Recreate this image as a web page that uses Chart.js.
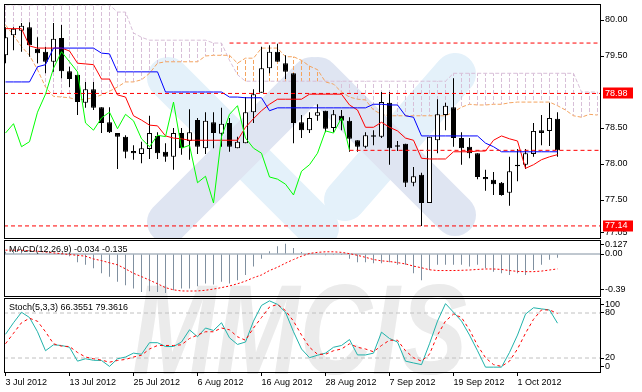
<!DOCTYPE html>
<html>
<head>
<meta charset="utf-8">
<script src="https://cdn.jsdelivr.net/npm/chart.js"></script>
<style>
  html, body { margin: 0; padding: 0; background: #fff; }
  #wrap { position: relative; width: 642px; height: 392px; overflow: hidden; }
  #wrap canvas { position: absolute; left: 0; }
  #mark { position: absolute; left: 132px; top: 256px; line-height: 128px;
          font: italic bold 128px "Liberation Sans", sans-serif; color: #ebebeb;
          transform-origin: 0 0; transform: scaleX(0.785); white-space: nowrap; }
</style>
</head>
<body>
<div id="wrap">
  <div id="mark">MMCIS</div>
  <canvas id="mainChart"  width="642" height="240" style="top:0"></canvas>
  <canvas id="macdChart"  width="642" height="57"  style="top:240px"></canvas>
  <canvas id="stochChart" width="642" height="95"  style="top:297px"></canvas>
</div>
<script>
//--------------------------------------
// USDJPY daily, Ichimoku + MACD + Stoch
//--------------------------------------

// date axis (bar index of each label)
var dateLabels = ["3 Jul 2012", "13 Jul 2012", "25 Jul 2012", "6 Aug 2012", "16 Aug 2012",
                  "28 Aug 2012", "7 Sep 2012", "19 Sep 2012", "1 Oct 2012"];
var dateBars   = [0, 8, 16, 24, 32, 40, 48, 56, 64];

// candles
var opens  = [79.51,79.79,79.85,79.90,79.60,79.56,79.42,79.75,79.29,79.24,
              78.85,79.04,78.79,78.58,78.43,78.38,78.18,78.14,78.21,78.39,
              78.17,78.10,78.43,78.32,78.61,78.22,78.58,78.42,78.57,78.22,
              78.29,78.72,78.99,79.33,79.56,79.40,79.26,78.58,78.47,78.67,
              78.74,78.50,78.67,78.60,78.33,78.24,78.40,78.38,78.85,78.24,
              78.28,77.74,77.85,77.46,78.33,78.68,78.79,78.36,78.24,78.15,
              77.82,77.78,77.74,77.60,77.97,77.99,78.14,78.47,78.46,78.63];
var highs  = [79.90,79.90,79.96,79.97,79.76,79.63,79.96,79.93,79.35,79.24,
              79.14,79.14,78.79,78.79,78.43,78.40,78.26,78.31,78.67,78.44,
              78.29,78.50,78.50,78.76,78.64,78.72,78.72,78.78,78.64,78.38,
              78.93,79.04,79.63,79.65,79.67,79.51,79.26,78.68,78.72,78.83,
              78.74,78.75,78.75,78.65,78.33,78.44,78.47,79.00,79.00,78.32,
              78.28,77.96,77.88,78.38,78.90,78.85,79.19,78.44,78.36,78.15,
              77.92,77.89,77.75,78.10,78.21,78.21,78.57,78.68,78.85,78.72];
var lows   = [79.40,79.58,79.56,79.49,79.40,79.26,79.28,79.19,79.07,78.68,
              78.78,78.75,78.43,78.43,77.93,78.08,78.06,78.01,78.07,78.07,
              78.03,77.92,78.13,78.06,78.14,78.14,78.22,78.24,78.17,78.22,
              78.29,78.57,78.99,79.26,79.42,79.18,78.29,78.36,78.43,78.60,
              78.44,78.44,78.47,78.17,78.17,78.22,78.26,78.36,77.99,78.18,
              77.68,77.69,77.14,77.46,78.15,78.47,78.24,77.99,78.08,77.79,
              77.63,77.57,77.56,77.42,77.76,77.93,78.10,78.26,78.25,78.10];
var closes = [79.76,79.88,79.92,79.65,79.54,79.42,79.74,79.29,79.18,78.86,
              79.04,78.78,78.57,78.44,78.38,78.17,78.15,78.22,78.43,78.15,
              78.10,78.43,78.22,78.44,78.24,78.60,78.43,78.56,78.24,78.31,
              78.72,78.97,79.33,79.56,79.42,79.28,78.57,78.47,78.64,78.72,
              78.49,78.69,78.60,78.35,78.24,78.40,78.38,78.86,78.22,78.26,
              77.74,77.83,77.46,78.38,78.69,78.81,78.36,78.22,78.15,77.82,
              77.79,77.72,77.57,77.90,77.99,78.15,78.46,78.43,78.64,78.19];

// ichimoku lines
var tenkan = [79.88,79.88,79.88,79.64,79.61,79.61,79.61,79.61,79.57,79.40,
              79.39,79.38,79.18,79.18,78.96,78.93,78.67,78.61,78.54,78.53,
              78.39,78.36,78.35,78.33,78.33,78.33,78.33,78.33,78.33,78.33,
              78.51,78.63,78.74,78.83,78.90,78.90,78.90,78.90,78.97,78.97,
              78.97,78.97,78.97,78.82,78.75,78.51,78.51,78.58,78.51,78.46,
              78.36,78.33,78.08,78.07,78.07,78.07,78.17,78.17,78.17,78.18,
              78.18,78.33,78.39,78.35,78.32,77.94,77.99,78.06,78.10,78.13];
var kijun  = [79.14,79.14,79.14,79.14,79.35,79.38,79.61,79.61,79.61,79.61,
              79.61,79.61,79.54,79.53,79.28,79.28,79.28,79.28,79.28,79.28,
              79.00,79.00,79.00,79.00,79.00,79.00,79.00,79.00,78.93,78.93,
              78.92,78.92,78.92,78.74,78.78,78.78,78.78,78.78,78.78,78.78,
              78.78,78.78,78.78,78.78,78.78,78.78,78.83,78.83,78.82,78.82,
              78.67,78.65,78.39,78.39,78.39,78.39,78.39,78.39,78.39,78.39,
              78.29,78.24,78.17,78.17,78.17,78.17,78.17,78.17,78.17,78.17];
var spanA  = [79.93,79.79,79.63,79.51,79.31,79.07,78.94,78.93,78.92,78.89,
              78.90,78.92,78.96,79.01,79.07,79.14,79.14,79.17,79.26,79.40,
              79.42,79.42,79.42,79.42,79.42,79.50,79.51,79.51,79.51,79.40,
              79.47,79.47,79.61,79.61,79.61,79.49,79.49,79.44,79.36,79.31,
              79.14,79.11,79.00,78.93,78.90,78.89,78.75,78.69,78.67,78.67,
              78.67,78.67,78.67,78.67,78.67,78.67,78.72,78.79,78.83,78.82,
              78.82,78.83,78.83,78.85,78.86,78.86,78.86,78.86,78.86,78.81,
              78.75,78.67,78.65,78.69,78.68];
var spanB  = [80.21,80.21,80.21,80.21,80.21,80.21,80.21,80.21,80.21,80.21,
              80.21,80.21,80.21,80.21,80.11,80.11,79.82,79.76,79.72,79.72,
              79.72,79.72,79.72,79.72,79.72,79.72,79.68,79.68,79.44,79.24,
              79.15,79.15,79.15,79.15,79.15,79.15,79.15,79.15,79.15,79.15,
              79.15,79.15,79.15,79.15,79.15,79.15,79.15,79.15,79.15,79.15,
              79.15,79.15,79.15,79.15,79.15,79.15,79.26,79.26,79.26,79.26,
              79.26,79.26,79.26,79.26,79.26,79.26,79.26,79.26,79.26,79.26,
              79.26,79.26,79.00,79.00,79.00];

// drawn levels (price, first bar)
var levels     = [79.68, 78.98, 78.19, 77.14];
var levelFrom  = [28, 0, 43, 0];
var priceBoxes = [78.98, 77.14];
var priceTicks = [80.00, 79.50, 78.50, 78.00, 77.50, 77.05];

// MACD(12,26,9)
var macdMain   = [0.02,0.02,0.02,0.01,0.005,0.0,0.0,-0.01,-0.02,-0.074,
                  -0.098,-0.129,-0.175,-0.206,-0.252,-0.283,-0.314,-0.345,-0.338,-0.345,
                  -0.354,-0.329,-0.314,-0.314,-0.292,-0.268,-0.277,-0.252,-0.268,-0.237,
                  -0.191,-0.114,-0.043,0.025,0.071,0.092,0.055,0.018,0.008,0.004,
                  -0.012,-0.01,-0.01,-0.043,-0.074,-0.074,-0.083,-0.083,-0.074,-0.098,
                  -0.098,-0.175,-0.237,-0.145,-0.098,-0.098,-0.098,-0.098,-0.114,-0.098,
                  -0.129,-0.16,-0.175,-0.191,-0.175,-0.191,-0.145,-0.098,-0.052,-0.034];
var macdSignal = [0.035,0.035,0.034,0.03,0.025,0.018,0.01,0.003,-0.005,-0.012,
                  -0.02,-0.045,-0.06,-0.08,-0.098,-0.135,-0.175,-0.205,-0.237,-0.27,
                  -0.305,-0.325,-0.335,-0.336,-0.335,-0.329,-0.318,-0.305,-0.29,-0.27,
                  -0.246,-0.215,-0.19,-0.15,-0.12,-0.083,-0.05,-0.02,0.005,0.015,
                  0.02,0.02,0.015,0.003,-0.012,-0.03,-0.05,-0.062,-0.068,-0.078,
                  -0.09,-0.11,-0.125,-0.143,-0.15,-0.15,-0.15,-0.148,-0.145,-0.14,
                  -0.136,-0.136,-0.14,-0.15,-0.158,-0.16,-0.16,-0.155,-0.145,-0.135];

// Stoch(5,3,3)
var stochMain   = [51.6,67,81,74,55,29.7,37.6,36.7,34.3,15.8,
                   19,17,16.7,8.8,19,21.3,26.5,25,40.4,40.4,
                   35.3,35.3,41.3,57.6,48.3,60,56.7,67,46.9,38.1,
                   41.3,69.2,90.1,96.2,91.5,81,55,32,20.4,23.7,
                   26.5,34.3,36.7,44.6,24.1,24.1,26.5,54.4,46,41.3,
                   15.8,13.4,11.2,39,69.2,92.5,81,69.2,50.6,29.7,
                   7.8,7.8,7.8,27.4,50.6,78.5,87,85.5,84.1,66.4];
var stochSignal = [39,53,67,73,69,55,39,35.8,35.3,27.4,
                   21.3,19,17.2,14.4,16.7,18.1,21.3,23.7,32,36.7,
                   36.7,36.7,37.6,46,50.6,55,55,60,57.6,48.3,
                   43.7,60,74,88,91.5,83.2,69.2,50.6,34.3,25,
                   25,29.7,32,39,34.3,32,28.3,36.7,43.7,43.7,
                   29.7,20.4,15.8,25,50.6,69.2,78.5,74,57.6,36.7,
                   20.4,11.2,8.8,15.8,32,53,71.6,84.1,84.1,79.4];
var stochLevels = [20, 80];

//--------------------------------------

var X_MIN = -0.1875, X_MAX = 74.4375;    // 8 px per bar
var FONT  = "Liberation Sans";
Chart.defaults.font.family = FONT;
Chart.defaults.font.size   = 9;
Chart.defaults.color       = "#000";

function pts(arr, shift) {
    return arr.map(function(v, i) { return {x: i + (shift || 0), y: v}; });
}

function makeHatch(color) {
    var c = document.createElement("canvas");
    c.width = 1; c.height = 6;
    var g = c.getContext("2d");
    g.fillStyle = color;
    g.fillRect(0, 0, 1, 4);
    return g.createPattern(c, "repeat");
}
var hatchPink  = makeHatch("#d8bfd8");
var hatchBrown = makeHatch("#f4a460");

// frame round the plot area + panel caption
var framePlugin = {
    id: "frame",
    afterDraw: function(chart, args, opts) {
        var a = chart.chartArea, ctx = chart.ctx;
        ctx.save();
        ctx.strokeStyle = "#000";
        ctx.lineWidth = 1;
        ctx.strokeRect(a.left + 0.5, a.top + 0.5, a.right - a.left - 1, a.bottom - a.top - 1);
        if (opts.title) {
            ctx.fillStyle = "#000";
            ctx.font = "9px '" + FONT + "'";
            ctx.textBaseline = "middle";
            ctx.fillText(opts.title, a.left + 5, a.top + opts.titleY);
        }
        ctx.restore();
    }
};

// pale logo behind the price chart
var logoPlugin = {
    id: "logo",
    beforeDatasetsDraw: function(chart) {
        var a = chart.chartArea, ctx = chart.ctx;
        var bands = [
            ["#e4f1fa", 168, 78, 318, 228],
            ["#e4f1fa", 455, 74, 345, 200],
            ["#dfe5f2", 168, 222, 312, 78],
            ["#dfe5f2", 318, 78, 455, 215]
        ];
        ctx.save();
        ctx.beginPath();
        ctx.rect(a.left, a.top, a.right - a.left, a.bottom - a.top);
        ctx.clip();
        ctx.lineCap = "round";
        ctx.lineWidth = 42;
        bands.forEach(function(b) {
            ctx.strokeStyle = b[0];
            ctx.beginPath();
            ctx.moveTo(b[1], b[2]);
            ctx.lineTo(b[3], b[4]);
            ctx.stroke();
        });
        ctx.restore();
    }
};

// red price boxes on the right axis
var boxPlugin = {
    id: "boxes",
    afterDraw: function(chart) {
        var ctx = chart.ctx, y = chart.scales.y;
        ctx.save();
        ctx.font = "9px '" + FONT + "'";
        ctx.textBaseline = "middle";
        priceBoxes.forEach(function(v) {
            var py = y.getPixelForValue(v);
            ctx.fillStyle = "#ff0000";
            ctx.fillRect(603, Math.round(py) - 5.5, 30, 11);
            ctx.fillStyle = "#fff";
            ctx.fillText(v.toFixed(2), 605, py);
        });
        ctx.restore();
    }
};

function rightAxis(min, max, tickValues, labels) {
    return {
        position: "right", min: min, max: max,
        afterFit: function(s) { s.width = 41; s.paddingTop = 0; s.paddingBottom = 0; },
        afterBuildTicks: function(s) { s.ticks = tickValues.map(function(v) { return {value: v}; }); },
        ticks: {
            padding: 1, color: "#000", font: {family: FONT, size: 9},
            callback: function(v) {
                var k = tickValues.indexOf(v);
                return labels ? labels[k] : v.toFixed(2);
            }
        },
        grid:   { drawOnChartArea: false, drawTicks: true, tickLength: 3, color: "#000" },
        border: { display: false }
    };
}

//------------------- price panel -------------------
var levelSets = levels.map(function(v, k) {
    return {
        type: "line",
        data: [{x: levelFrom[k] === 0 ? X_MIN : levelFrom[k], y: v}, {x: X_MAX, y: v}],
        borderColor: "#ff0000", borderWidth: 1, borderDash: [4, 3],
        pointRadius: 0, order: 0
    };
});

new Chart(document.getElementById("mainChart"), {
    type: "bar",
    data: {
        datasets: [
            { type: "line", data: pts(closes.slice(26)), borderColor: "#00ff00", borderWidth: 1,
              pointRadius: 0, tension: 0, order: 1 },
            { type: "line", data: pts(kijun), borderColor: "#0000ff", borderWidth: 1,
              pointRadius: 0, tension: 0, order: 2 },
            { type: "line", data: pts(tenkan), borderColor: "#ff0000", borderWidth: 1,
              pointRadius: 0, tension: 0, order: 3 },
            { data: opens.map(function(o, i) { return {x: i, y: [o, closes[i]]}; }),
              backgroundColor: opens.map(function(o, i) { return closes[i] >= o ? "#fff" : "#000"; }),
              borderColor: "#000", borderWidth: 1, borderSkipped: false,
              barThickness: 5, grouped: false, inflateAmount: 0, order: 5 },
            { data: highs.map(function(h, i) { return {x: i, y: [lows[i], h]}; }),
              backgroundColor: "#000", borderWidth: 0,
              barThickness: 1, grouped: false, inflateAmount: 0, order: 6 },
            { type: "line", data: pts(spanA), borderColor: "#f4a460", borderWidth: 1, borderDash: [4, 2],
              pointRadius: 0, tension: 0, order: 7 },
            { type: "line", data: pts(spanB), borderColor: "#d8bfd8", borderWidth: 1, borderDash: [4, 2],
              pointRadius: 0, tension: 0, order: 7 },
            { data: spanA.map(function(a, i) { return {x: i, y: [a, spanB[i]]}; }),
              backgroundColor: spanA.map(function(a, i) { return a > spanB[i] ? hatchBrown : hatchPink; }),
              borderWidth: 0, barThickness: 1, grouped: false, inflateAmount: 0, order: 9 }
        ].concat(levelSets)
    },
    options: {
        responsive: false, animation: false, events: [],
        layout: { padding: { left: 4, top: 4, right: 0, bottom: 1 } },
        plugins: { legend: { display: false }, tooltip: { enabled: false }, frame: {} },
        scales: {
            x: { type: "linear", min: X_MIN, max: X_MAX, offset: false, display: false },
            y: rightAxis(76.9585, 80.2224, priceTicks)
        }
    },
    plugins: [logoPlugin, framePlugin, boxPlugin]
});

//------------------- MACD panel -------------------
new Chart(document.getElementById("macdChart"), {
    type: "bar",
    data: {
        datasets: [
            { type: "line", data: pts(macdSignal), borderColor: "#ff0000", borderWidth: 1, borderDash: [2, 2],
              pointRadius: 0, tension: 0, order: 1 },
            { type: "line", data: [{x: X_MIN, y: 0}, {x: X_MAX, y: 0}], borderColor: "#8090a0", borderWidth: 1,
              pointRadius: 0, order: 2 },
            { data: pts(macdMain), backgroundColor: "#8090a0", borderWidth: 0,
              barThickness: 1, grouped: false, inflateAmount: 0, order: 3 }
        ]
    },
    options: {
        responsive: false, animation: false, events: [],
        layout: { padding: { left: 4, top: 0, right: 0, bottom: 0 } },
        plugins: { legend: { display: false }, tooltip: { enabled: false },
                   frame: { title: "MACD(12,26,9) -0.034 -0.135", titleY: 9.5 } },
        scales: {
            x: { type: "linear", min: X_MIN, max: X_MAX, offset: false, display: false },
            y: rightAxis(-0.39, 0.127, [0.082, 0, -0.326], ["0.127", "0.00", "-0.39"])
        }
    },
    plugins: [framePlugin]
});

//------------------- Stochastic panel -------------------
new Chart(document.getElementById("stochChart"), {
    type: "line",
    data: {
        datasets: [
            { data: pts(stochSignal), borderColor: "#ff0000", borderWidth: 1, borderDash: [3, 3],
              pointRadius: 0, tension: 0, order: 1 },
            { data: pts(stochMain), borderColor: "#20b2aa", borderWidth: 1,
              pointRadius: 0, tension: 0, order: 2 }
        ].concat(stochLevels.map(function(v) {
            return { data: [{x: X_MIN, y: v}, {x: X_MAX, y: v}], borderColor: "#c0c0c0", borderWidth: 1,
                     borderDash: [4, 3], pointRadius: 0, order: 3 };
        }))
    },
    options: {
        responsive: false, animation: false, events: [],
        layout: { padding: { left: 4, top: 1, right: 0, bottom: 0 } },
        plugins: { legend: { display: false }, tooltip: { enabled: false },
                   frame: { title: "Stoch(5,3,3) 66.3551 79.3616", titleY: 10 } },
        scales: {
            x: {
                type: "linear", min: X_MIN, max: X_MAX, offset: false,
                afterFit: function(s) { s.height = 19; s.paddingLeft = 0; s.paddingRight = 0; },
                afterBuildTicks: function(s) { s.ticks = dateBars.map(function(v) { return {value: v}; }); },
                ticks: {
                    autoSkip: false, maxRotation: 0, align: "start", padding: 1,
                    font: { family: FONT, size: 9 }, color: "#000",
                    callback: function(v) { return dateLabels[dateBars.indexOf(v)]; }
                },
                grid:   { drawOnChartArea: false, drawTicks: true, tickLength: 3, color: "#000" },
                border: { display: false }
            },
            y: rightAxis(0, 100, [90.7, 80, 20, 9.3], ["100", "80", "20", "0"])
        }
    },
    plugins: [framePlugin]
});
</script>
</body>
</html>
